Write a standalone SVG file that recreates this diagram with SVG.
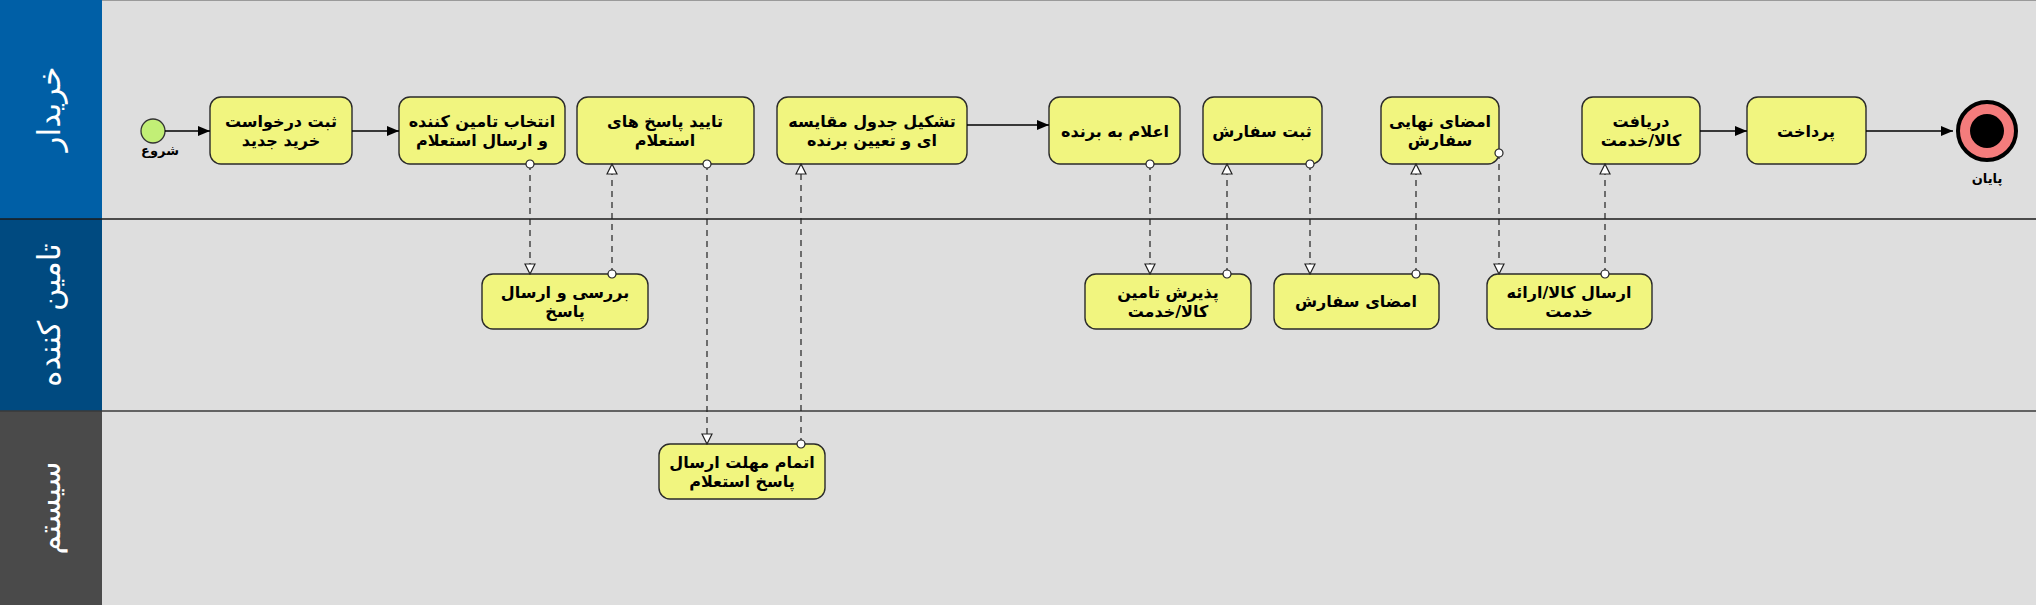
<svg xmlns="http://www.w3.org/2000/svg" width="2036" height="605" viewBox="0 0 2036 605">
<defs>
<marker id="arr" viewBox="0 0 12 10" refX="12" refY="5" markerWidth="12" markerHeight="10" markerUnits="userSpaceOnUse" orient="auto">
<path d="M0,0 L12,5 L0,10 Z" fill="#000"/>
</marker>
<marker id="tri" viewBox="0 0 12 12" refX="11" refY="6" markerWidth="12" markerHeight="12" markerUnits="userSpaceOnUse" orient="auto">
<path d="M1,1 L11,6 L1,11 Z" fill="#fff" stroke="#222" stroke-width="1.2"/>
</marker>
<marker id="dot" viewBox="0 0 10 10" refX="5" refY="5" markerWidth="10" markerHeight="10" markerUnits="userSpaceOnUse" orient="auto">
<circle cx="5" cy="5" r="4" fill="#fff" stroke="#222" stroke-width="1.2"/>
</marker>
</defs>
<style>
.task{fill:#f1f57f;stroke:#2a2a2a;stroke-width:1.4}
.t{font-family:"DejaVu Sans",sans-serif;font-weight:bold;font-size:16px;fill:#000;text-anchor:middle}
.lbl{font-family:"DejaVu Sans",sans-serif;font-weight:bold;font-size:13px;fill:#000;text-anchor:middle}
.lane{font-family:"DejaVu Sans",sans-serif;font-size:31px;fill:#fff;text-anchor:middle}
.flow{stroke:#000;stroke-width:1.3;fill:none;marker-end:url(#arr)}
.msg{stroke:#222;stroke-width:1.2;fill:none;stroke-dasharray:6,5;marker-start:url(#dot);marker-end:url(#tri)}
</style>
<g id="lanes">
<rect x="0" y="0" width="2036" height="605" fill="#dedede"/>
<line x1="0" y1="0.5" x2="2036" y2="0.5" stroke="#9a9a9a" stroke-width="1"/>
<rect x="0" y="0" width="102" height="219" fill="#005fa6"/>
<rect x="0" y="219" width="102" height="192" fill="#004a80"/>
<rect x="0" y="411" width="102" height="194" fill="#4a4a4a"/>
<line x1="0" y1="219" x2="2036" y2="219" stroke="#1a1a1a" stroke-width="1.3"/>
<line x1="0" y1="411" x2="2036" y2="411" stroke="#3a3a3a" stroke-width="1.3"/>
<text class="lane" transform="translate(60,109) rotate(-90)" direction="rtl">خریدار</text>
<text class="lane" transform="translate(60,315) rotate(-90)" direction="rtl">تامین کننده</text>
<text class="lane" transform="translate(60,508) rotate(-90)" direction="rtl">سیستم</text>
</g>
<g id="start">
<circle cx="153" cy="131" r="12" fill="#c2ef76" stroke="#333" stroke-width="1.3"/>
<text class="lbl" x="160" y="155" direction="rtl">شروع</text>
</g>
<g id="t1"><rect class="task" x="210" y="97" width="142" height="67" rx="11"/>
<text class="t" x="281" y="127" direction="rtl">ثبت درخواست</text><text class="t" x="281" y="146" direction="rtl">خرید جدید</text></g>
<g id="t2"><rect class="task" x="399" y="97" width="166" height="67" rx="11"/>
<text class="t" x="482" y="127" direction="rtl">انتخاب تامین کننده</text><text class="t" x="482" y="146" direction="rtl">و ارسال استعلام</text></g>
<g id="t3"><rect class="task" x="577" y="97" width="177" height="67" rx="11"/>
<text class="t" x="665" y="127" direction="rtl">تایید پاسخ های</text><text class="t" x="665" y="146" direction="rtl">استعلام</text></g>
<g id="t4"><rect class="task" x="777" y="97" width="190" height="67" rx="11"/>
<text class="t" x="872" y="127" direction="rtl">تشکیل جدول مقایسه</text><text class="t" x="872" y="146" direction="rtl">ای و تعیین برنده</text></g>
<g id="t5"><rect class="task" x="1049" y="97" width="131" height="67" rx="11"/>
<text class="t" x="1115" y="137" direction="rtl">اعلام به برنده</text></g>
<g id="t6"><rect class="task" x="1203" y="97" width="119" height="67" rx="11"/>
<text class="t" x="1262" y="137" direction="rtl">ثبت سفارش</text></g>
<g id="t7"><rect class="task" x="1381" y="97" width="118" height="67" rx="11"/>
<text class="t" x="1440" y="127" direction="rtl">امضای نهایی</text><text class="t" x="1440" y="146" direction="rtl">سفارش</text></g>
<g id="t8"><rect class="task" x="1582" y="97" width="118" height="67" rx="11"/>
<text class="t" x="1641" y="127" direction="rtl">دریافت</text><text class="t" x="1641" y="146" direction="rtl">کالا/خدمت</text></g>
<g id="t9"><rect class="task" x="1747" y="97" width="119" height="67" rx="11"/>
<text class="t" x="1806" y="137" direction="rtl">پرداخت</text></g>
<g id="end">
<circle cx="1987" cy="131" r="29" fill="#f47c7c" stroke="#000" stroke-width="4"/>
<circle cx="1987" cy="131" r="17" fill="#000"/>
<text class="lbl" x="1987" y="183" direction="rtl">پایان</text>
</g>
<g id="s1"><rect class="task" x="482" y="274" width="166" height="55" rx="11"/>
<text class="t" x="565" y="298" direction="rtl">بررسی و ارسال</text><text class="t" x="565" y="317" direction="rtl">پاسخ</text></g>
<g id="s2"><rect class="task" x="1085" y="274" width="166" height="55" rx="11"/>
<text class="t" x="1168" y="298" direction="rtl">پذیرش تامین</text><text class="t" x="1168" y="317" direction="rtl">کالا/خدمت</text></g>
<g id="s3"><rect class="task" x="1274" y="274" width="165" height="55" rx="11"/>
<text class="t" x="1356" y="307" direction="rtl">امضای سفارش</text></g>
<g id="s4"><rect class="task" x="1487" y="274" width="165" height="55" rx="11"/>
<text class="t" x="1569" y="298" direction="rtl">ارسال کالا/ارائه</text><text class="t" x="1569" y="317" direction="rtl">خدمت</text></g>
<g id="y1"><rect class="task" x="659" y="444" width="166" height="55" rx="11"/>
<text class="t" x="742" y="468" direction="rtl">اتمام مهلت ارسال</text><text class="t" x="742" y="487" direction="rtl">پاسخ استعلام</text></g>
<g id="connectors">
<line class="flow" x1="165" y1="131" x2="210" y2="131"/>
<line class="flow" x1="352" y1="131" x2="399" y2="131"/>
<line class="flow" x1="967" y1="125" x2="1049" y2="125"/>
<line class="flow" x1="1700" y1="131" x2="1747" y2="131"/>
<line class="flow" x1="1866" y1="131" x2="1953" y2="131"/>
<line class="msg" x1="530" y1="164" x2="530" y2="274"/>
<line class="msg" x1="612" y1="274" x2="612" y2="164"/>
<line class="msg" x1="707" y1="164" x2="707" y2="444"/>
<line class="msg" x1="801" y1="444" x2="801" y2="164"/>
<line class="msg" x1="1150" y1="164" x2="1150" y2="274"/>
<line class="msg" x1="1227" y1="274" x2="1227" y2="164"/>
<line class="msg" x1="1310" y1="164" x2="1310" y2="274"/>
<line class="msg" x1="1416" y1="274" x2="1416" y2="164"/>
<line class="msg" x1="1499" y1="153" x2="1499" y2="274"/>
<line class="msg" x1="1605" y1="274" x2="1605" y2="164"/>
</g>
</svg>
